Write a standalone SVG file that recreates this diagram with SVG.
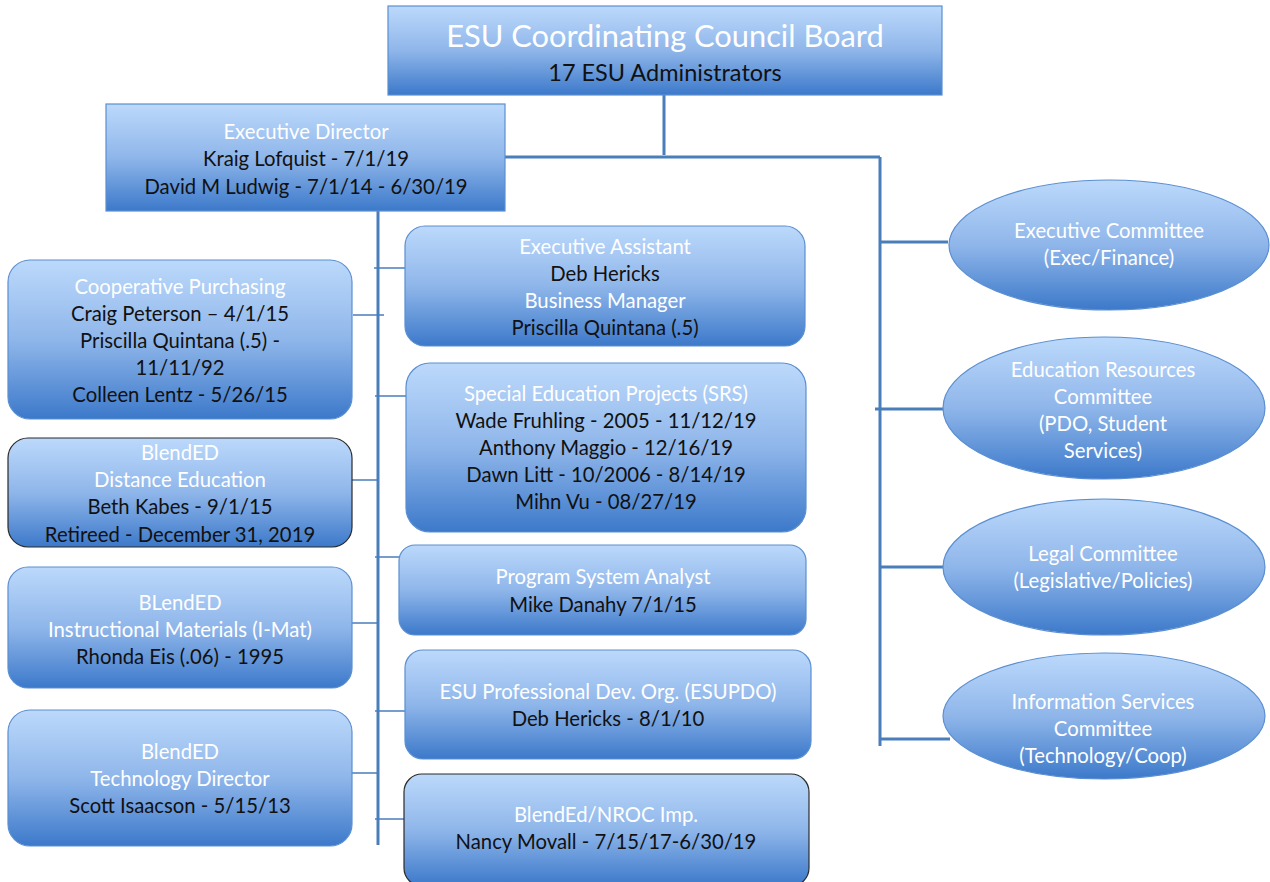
<svg xmlns="http://www.w3.org/2000/svg" width="1270" height="882" viewBox="0 0 1270 882">
<style>
.t{font-family:Lato,"Liberation Sans",sans-serif;font-size:20.3px;text-anchor:middle}
.w{fill:#ffffff}
.k{fill:#111111}
.box{fill:url(#g);stroke:#5b8fd1;stroke-width:1.2}
.dk{fill:url(#g);stroke:#2b2b2b;stroke-width:1.2}
.main{stroke:#4a7ebb;stroke-width:3;fill:none}
.thin{stroke:#4a7ebb;stroke-width:1.5;fill:none}
</style>
<defs>
<linearGradient id="g" x1="0" y1="0" x2="0" y2="1">
<stop offset="0" stop-color="#bcd9fb"/>
<stop offset="0.5" stop-color="#8fb6ea"/>
<stop offset="1" stop-color="#3c79ca"/>
</linearGradient>
</defs>
<rect width="1270" height="882" fill="#ffffff"/>
<g id="connectors">
<path class="main" d="M664 95 V155 M505 157 H880 M880 157 V746 M880 242 H948 M875 409 H944 M880 567 H950 M880 739 H950"/>
<path class="main" d="M378 211 V845"/>
<path class="thin" d="M374 268 H405 M353 315 H384 M375 396 H406 M340 480 H378 M375 557 H399 M349 623 H378 M375 711 H405 M349 773 H378 M375 819 H404"/>
</g>
<g id="board">
<rect class="box" x="388" y="6" width="554" height="89"/>
<text class="t w" x="665" y="47" style="font-size:30.8px">ESU Coordinating Council Board</text>
<text class="t k" x="665" y="81" style="font-size:23.5px">17 ESU Administrators</text>
</g>
<g id="exec-director">
<rect class="box" x="106" y="104" width="399" height="107"/>
<text class="t w" x="306" y="139">Executive Director</text>
<text class="t k" x="306" y="166">Kraig Lofquist - 7/1/19</text>
<text class="t k" x="306" y="194">David M Ludwig - 7/1/14 - 6/30/19</text>
</g>
<g id="coop-purchasing">
<rect class="box" x="8" y="260" width="344" height="159" rx="22"/>
<text class="t w" x="180" y="294">Cooperative Purchasing</text>
<text class="t k" x="180" y="321">Craig Peterson – 4/1/15</text>
<text class="t k" x="180" y="348">Priscilla Quintana (.5) -</text>
<text class="t k" x="180" y="375">11/11/92</text>
<text class="t k" x="180" y="402">Colleen Lentz - 5/26/15</text>
</g>
<g id="distance-ed">
<rect class="dk" x="8" y="438" width="344" height="109" rx="20"/>
<text class="t w" x="180" y="460">BlendED</text>
<text class="t w" x="180" y="487">Distance Education</text>
<text class="t k" x="180" y="514">Beth Kabes - 9/1/15</text>
<text class="t k" x="180" y="542">Retireed - December 31, 2019</text>
</g>
<g id="imat">
<rect class="box" x="8" y="567" width="344" height="121" rx="20"/>
<text class="t w" x="180" y="610">BLendED</text>
<text class="t w" x="180" y="637">Instructional Materials (I-Mat)</text>
<text class="t k" x="180" y="664">Rhonda Eis (.06) - 1995</text>
</g>
<g id="tech-director">
<rect class="box" x="8" y="710" width="344" height="136" rx="22"/>
<text class="t w" x="180" y="759">BlendED</text>
<text class="t w" x="180" y="786">Technology Director</text>
<text class="t k" x="180" y="813">Scott Isaacson - 5/15/13</text>
</g>
<g id="exec-assistant">
<rect class="box" x="405" y="226" width="400" height="120" rx="20"/>
<text class="t w" x="605" y="254">Executive Assistant</text>
<text class="t k" x="605" y="281">Deb Hericks</text>
<text class="t w" x="605" y="308">Business Manager</text>
<text class="t k" x="605" y="335">Priscilla Quintana (.5)</text>
</g>
<g id="srs">
<rect class="box" x="406" y="363" width="400" height="169" rx="24"/>
<text class="t w" x="606" y="401">Special Education Projects (SRS)</text>
<text class="t k" x="606" y="428">Wade Fruhling - 2005 - 11/12/19</text>
<text class="t k" x="606" y="455">Anthony Maggio - 12/16/19</text>
<text class="t k" x="606" y="482">Dawn Litt - 10/2006 - 8/14/19</text>
<text class="t k" x="606" y="509">Mihn Vu - 08/27/19</text>
</g>
<g id="psa">
<rect class="box" x="399" y="545" width="407" height="90" rx="16"/>
<text class="t w" x="603" y="584">Program System Analyst</text>
<text class="t k" x="603" y="612">Mike Danahy 7/1/15</text>
</g>
<g id="esupdo">
<rect class="box" x="405" y="650" width="406" height="109" rx="18"/>
<text class="t w" x="608" y="699">ESU Professional Dev. Org. (ESUPDO)</text>
<text class="t k" x="608" y="726">Deb Hericks - 8/1/10</text>
</g>
<g id="nroc">
<rect class="dk" x="404" y="774" width="405" height="112" rx="18"/>
<text class="t w" x="606" y="822">BlendEd/NROC Imp.</text>
<text class="t k" x="606" y="849">Nancy Movall - 7/15/17-6/30/19</text>
</g>
<g id="exec-committee">
<ellipse class="box" cx="1109" cy="245" rx="160" ry="65"/>
<text class="t w" x="1109" y="238">Executive Committee</text>
<text class="t w" x="1109" y="265">(Exec/Finance)</text>
</g>
<g id="edu-resources">
<ellipse class="box" cx="1104" cy="408" rx="161" ry="71"/>
<text class="t w" x="1103" y="377">Education Resources</text>
<text class="t w" x="1103" y="404">Committee</text>
<text class="t w" x="1103" y="431">(PDO, Student</text>
<text class="t w" x="1103" y="458">Services)</text>
</g>
<g id="legal">
<ellipse class="box" cx="1104" cy="567" rx="161" ry="68"/>
<text class="t w" x="1103" y="561">Legal Committee</text>
<text class="t w" x="1103" y="588">(Legislative/Policies)</text>
</g>
<g id="info-services">
<ellipse class="box" cx="1104" cy="716" rx="161" ry="63"/>
<text class="t w" x="1103" y="709">Information Services</text>
<text class="t w" x="1103" y="736">Committee</text>
<text class="t w" x="1103" y="763">(Technology/Coop)</text>
</g>
</svg>
